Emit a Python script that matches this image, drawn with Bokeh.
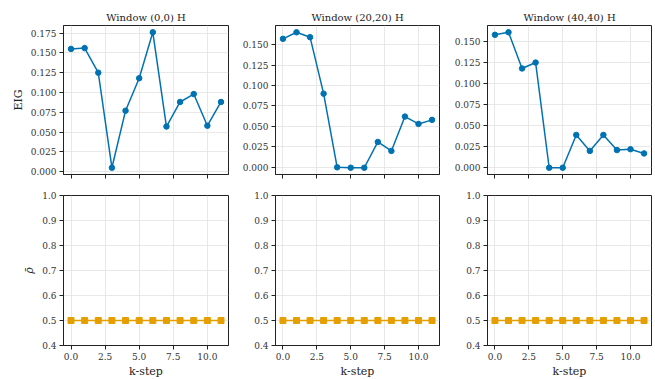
from bokeh.plotting import figure
from bokeh.layouts import gridplot
from bokeh.models import Range1d, SingleIntervalTicker, NumeralTickFormatter
from bokeh.embed import file_html
from bokeh.resources import INLINE

k_steps = list(range(12))
window_titles = ["Window (0,0) H", "Window (20,20) H", "Window (40,40) H"]
eig_w00 = [0.155, 0.156, 0.125, 0.005, 0.077, 0.118, 0.176, 0.057, 0.088, 0.098, 0.058, 0.088]
eig_w20 = [0.157, 0.165, 0.159, 0.090, 0.000, -0.0005, -0.0005, 0.031, 0.020, 0.062, 0.053, 0.058]
eig_w40 = [0.158, 0.161, 0.118, 0.125, 0.000, 0.000, 0.039, 0.020, 0.039, 0.021, 0.022, 0.017]
rho_w00 = [0.5] * 12
rho_w20 = [0.5] * 12
rho_w40 = [0.5] * 12

BLUE = "#0072B2"
ORANGE = "#E69F00"
FONT = "DejaVu Serif"
TXT = "#222222"

col_left = [63, 43, 44]
col_right = [4, 4, 3]
col_fw = [165, 164, 164]
FH_TOP = 149
FH_BOT = 150


def style(p, xlabels=True):
    p.outline_line_color = TXT
    p.outline_line_width = 1
    p.background_fill_color = "white"
    p.border_fill_color = "white"
    for ax in (p.xaxis[0], p.yaxis[0]):
        ax.axis_line_color = TXT
        ax.major_tick_line_color = TXT
        ax.major_tick_out = 4
        ax.major_tick_in = 0
        ax.minor_tick_line_color = None
        ax.major_label_text_font = FONT
        ax.major_label_text_font_size = "9px"
        ax.major_label_text_color = "#333333"
        ax.major_label_standoff = 3
        ax.axis_label_text_font = FONT
        ax.axis_label_text_font_size = "11px"
        ax.axis_label_text_font_style = "normal"
        ax.axis_label_text_color = TXT
        ax.axis_label_standoff = 3
    p.grid.grid_line_color = "#e2e2e2"
    p.grid.grid_line_width = 0.8
    p.xaxis.ticker = SingleIntervalTicker(interval=2.5)
    p.xaxis.formatter = NumeralTickFormatter(format="0.0")
    if not xlabels:
        p.xaxis.major_label_text_color = None
        p.xaxis.major_label_text_font_size = "1px"
        p.xaxis.major_label_standoff = 0


def yrange(vals):
    lo, hi = min(vals), max(vals)
    m = 0.05 * (hi - lo)
    return Range1d(lo - m, hi + m)


def xrange_():
    lo, hi = min(k_steps), max(k_steps)
    m = 0.05 * (hi - lo)
    return Range1d(lo - m, hi + m)


top = []
bottom = []
eig_all = [eig_w00, eig_w20, eig_w40]
rho_all = [rho_w00, rho_w20, rho_w40]
for i in range(3):
    p = figure(frame_width=col_fw[i], frame_height=FH_TOP, output_backend="svg", toolbar_location=None,
               min_border_left=col_left[i], min_border_right=col_right[i],
               min_border_top=25, min_border_bottom=13,
               x_range=xrange_(), y_range=yrange(eig_all[i]), title=window_titles[i])
    p.line(k_steps, eig_all[i], line_color=BLUE, line_width=1.5)
    p.scatter(k_steps, eig_all[i], marker="circle", size=5.5, fill_color=BLUE, line_color=BLUE)
    style(p, xlabels=False)
    p.yaxis.ticker = SingleIntervalTicker(interval=0.025)
    p.yaxis.formatter = NumeralTickFormatter(format="0.000")
    p.title.text_font = FONT
    p.title.text_font_size = "10px"
    p.title.text_font_style = "normal"
    p.title.text_color = TXT
    p.title.align = "center"
    p.title.standoff = 6
    if i == 0:
        p.yaxis.axis_label = "EIG"
    top.append(p)

    q = figure(frame_width=col_fw[i], frame_height=FH_BOT, output_backend="svg", toolbar_location=None,
               min_border_left=col_left[i], min_border_right=col_right[i],
               min_border_top=8, min_border_bottom=31,
               x_range=xrange_(), y_range=Range1d(0.4, 1.0))
    q.line(k_steps, rho_all[i], line_color=ORANGE, line_width=1.5)
    q.scatter(k_steps, rho_all[i], marker="square", size=6, fill_color=ORANGE, line_color=ORANGE)
    style(q, xlabels=True)
    q.xaxis.major_label_standoff = 3
    q.xaxis.axis_label_standoff = 2
    q.yaxis.ticker = SingleIntervalTicker(interval=0.1)
    q.yaxis.formatter = NumeralTickFormatter(format="0.0")
    q.xaxis.axis_label = "k-step"
    if i == 0:
        q.yaxis.axis_label = "\u03c1\u0304"
        q.yaxis.axis_label_text_font_style = "italic"
    bottom.append(q)

grid = gridplot([top, bottom], toolbar_location=None)
open("out.html", "w").write(file_html(grid, INLINE))
